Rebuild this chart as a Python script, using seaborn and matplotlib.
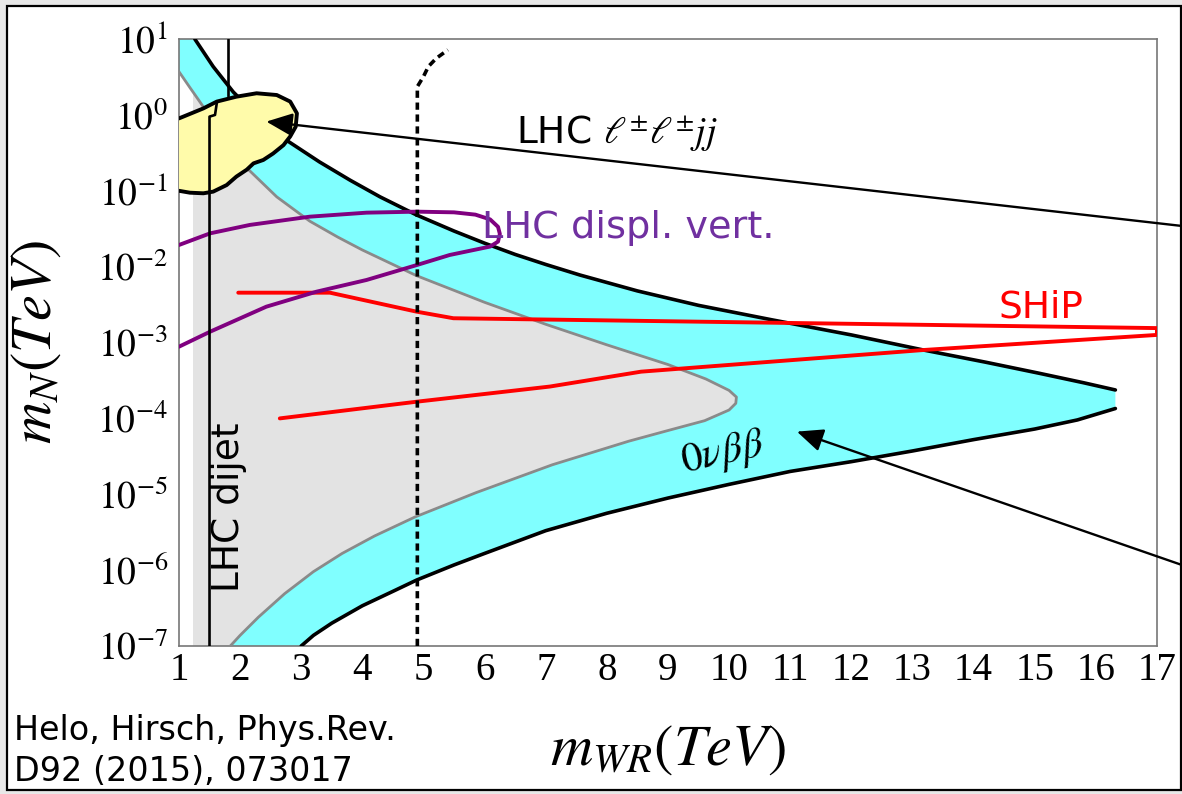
import matplotlib
matplotlib.use("Agg")
import matplotlib.pyplot as plt
from matplotlib.patches import Polygon, Rectangle
from matplotlib.ticker import NullLocator
import seaborn as sns

sns.set_theme(style="white")
plt.rcParams["font.family"] = ["DejaVu Sans"]
plt.rcParams["mathtext.fontset"] = "stix"
plt.rcParams["text.color"] = "black"
plt.rcParams["axes.labelcolor"] = "black"

# ---------------- data: m_WR [TeV] on x, m_N [TeV] on y ----------------
# 0vbb future sensitivity band (cyan), upper edge
band_hi_mwr = [1.26, 1.56, 1.89, 2.34, 2.79, 3.30, 3.80, 4.29, 4.89, 5.50, 6.00, 6.50, 7.00, 7.56,
               8.50, 9.50, 10.69, 12.00, 13.19, 14.20, 15.07, 15.80, 16.32]
band_hi_mn = [10.0, 4.34, 2.0, 0.87, 0.447, 0.240, 0.138, 0.0832, 0.0479, 0.0295, 0.0204, 0.0145,
              0.0107, 7.76e-3, 4.79e-3, 3.09e-3, 2.0e-3, 1.26e-3, 7.94e-4, 5.5e-4, 3.94e-4, 2.95e-4, 2.37e-4]
# lower edge
band_lo_mwr = [3.00, 3.20, 3.50, 4.00, 4.50, 4.89, 5.50, 6.00, 7.00, 8.00, 9.00, 10.00, 11.00,
               12.00, 13.00, 14.00, 15.00, 15.70, 16.32]
band_lo_mn = [1e-7, 1.38e-7, 2.0e-7, 3.39e-7, 5.25e-7, 7.41e-7, 1.17e-6, 1.66e-6, 3.31e-6, 5.62e-6,
              8.91e-6, 1.35e-5, 2.0e-5, 2.69e-5, 3.72e-5, 5.25e-5, 7.24e-5, 9.55e-5, 1.35e-4]

# current 0vbb exclusion (grey), boundary traced from the top left round the nose
excl_mwr = [1.00, 1.18, 1.32, 1.60, 1.90, 2.11, 2.60, 3.14, 3.60, 4.00, 4.89, 6.00, 7.00, 8.00, 9.00,
            9.62, 10.00, 10.12, 10.11, 10.00, 9.60, 9.00, 8.36, 7.11, 5.86, 4.86, 4.20, 3.67, 3.20,
            2.73, 2.30, 2.00, 1.84]
excl_mn = [3.72, 2.29, 1.58, 0.741, 0.347, 0.20, 0.0832, 0.0398, 0.0245, 0.0166, 7.59e-3, 3.39e-3,
           1.74e-3, 9.33e-4, 5.13e-4, 3.31e-4, 2.34e-4, 1.91e-4, 1.58e-4, 1.29e-4, 9.33e-5, 6.92e-5,
           5.01e-5, 2.45e-5, 1.05e-5, 5.01e-6, 2.82e-6, 1.66e-6, 9.55e-7, 4.9e-7, 2.4e-7, 1.38e-7, 1e-7]
excl_left_edge = 1.23

# LHC l+-l+-jj excluded region
lljj_mwr = [1.00, 1.40, 1.62, 1.94, 2.27, 2.60, 2.82, 2.93, 2.91, 2.82, 2.71, 2.54, 2.38, 2.22, 2.11,
            1.94, 1.78, 1.56, 1.40, 1.18, 1.00]
lljj_mn = [0.90, 1.22, 1.50, 1.74, 1.93, 1.83, 1.50, 1.05, 0.70, 0.52, 0.40, 0.31, 0.255, 0.23, 0.19,
           0.154, 0.119, 0.0975, 0.0927, 0.0944, 0.100]

# LHC displaced vertex reach
dv_mwr = [1.00, 1.51, 2.16, 3.14, 4.07, 4.89, 5.50, 5.85, 6.09, 6.22, 6.25, 6.22, 6.09, 5.43, 4.89,
          4.07, 3.25, 2.43, 1.51, 1.00]
dv_mn = [0.0193, 0.0275, 0.0355, 0.0456, 0.0515, 0.0531, 0.0520, 0.0485, 0.0420, 0.0335, 0.0270,
         0.0214, 0.0184, 0.01426, 0.0105, 6.68e-3, 4.68e-3, 2.97e-3, 1.39e-3, 8.81e-4]

# SHiP reach
ship_mwr = [1.97, 3.47, 4.89, 5.49, 17.0, 17.0, 13.19, 8.56, 7.07, 4.89, 2.65]
ship_mn = [4.54e-3, 4.54e-3, 2.55e-3, 2.09e-3, 1.55e-3, 1.26e-3, 7.98e-4, 4.13e-4, 2.63e-4, 1.66e-4, 1.0e-4]

# LHC dijet limit
dijet_lo_mwr = [1.50, 1.50, 1.59, 1.62]
dijet_lo_mn = [1e-7, 0.95, 1.0, 1.45]
dijet_hi_mwr = [1.81, 1.81]
dijet_hi_mn = [1.75, 10.0]

# dotted LHC projection
proj_mwr = [4.90, 4.90, 5.00, 5.08, 5.21, 5.40]
proj_mn = [1e-7, 2.36, 3.2, 4.34, 5.58, 7.2]

x_ticks = list(range(1, 18))
y_exponents = list(range(-7, 2))

CYAN = "#80ffff"
GREY_FILL = "#e3e3e3"
GREY_LINE = "#8a8a8a"
YELLOW = "#fffbaa"
PURPLE = "#800080"
PURPLE_TXT = "#7030a0"
RED = "#ff0000"
AXIS_GREY = "#777777"

fig = plt.figure(figsize=(11.82, 7.94), dpi=100)
fig.patch.set_facecolor("#e8e8e8")
fig.add_artist(Rectangle((7 / 1182, 4 / 794), 1174 / 1182, 784 / 794, transform=fig.transFigure,
                         facecolor="white", edgecolor="black", lw=1.6, zorder=-5))

ax = fig.add_axes([0.1514, 0.1864, 0.8274, 0.7644])
ax.set_facecolor("white")
ax.set_yscale("log")
ax.set_xlim(1, 17)
ax.set_ylim(1e-7, 10)

# cyan band: upper edge, vertical cut at the tip, lower edge, then the bottom-left corner
band_x = [1.0] + band_hi_mwr + band_lo_mwr[::-1] + [1.0]
band_y = [10.0] + band_hi_mn + band_lo_mn[::-1] + [1e-7]
ax.add_patch(Polygon(list(zip(band_x, band_y)), closed=True, facecolor=CYAN, edgecolor="none", zorder=1))

# grey exclusion region, left strip kept white
excl_patch = Polygon(list(zip(excl_mwr + [1.0], excl_mn + [1e-7])), closed=True,
                     facecolor=GREY_FILL, edgecolor="none", zorder=2)
ax.add_patch(excl_patch)
strip = ax.axvspan(1.0, excl_left_edge, color="white", lw=0, zorder=2.1)
strip.set_clip_path(excl_patch)
sns.lineplot(x=excl_mwr, y=excl_mn, sort=False, estimator=None, ax=ax, color=GREY_LINE, lw=2.0, zorder=3)

# black band edges
sns.lineplot(x=band_hi_mwr, y=band_hi_mn, sort=False, estimator=None, ax=ax, color="black", lw=2.6, zorder=3.2)
sns.lineplot(x=band_lo_mwr, y=band_lo_mn, sort=False, estimator=None, ax=ax, color="black", lw=2.6, zorder=3.2)

# SHiP and displaced vertices
sns.lineplot(x=ship_mwr, y=ship_mn, sort=False, estimator=None, ax=ax, color=RED, lw=2.8, zorder=3.5)
sns.lineplot(x=dv_mwr, y=dv_mn, sort=False, estimator=None, ax=ax, color=PURPLE, lw=2.8, zorder=3.6)

# dotted projection
sns.lineplot(x=proj_mwr, y=proj_mn, sort=False, estimator=None, ax=ax, color="black", lw=2.6,
             linestyle=(0, (2.0, 1.3)), zorder=3.7)

# l+-l+-jj blob
ax.add_patch(Polygon(list(zip(lljj_mwr, lljj_mn)), closed=True, facecolor=YELLOW, edgecolor="none", zorder=4))
sns.lineplot(x=lljj_mwr, y=lljj_mn, sort=False, estimator=None, ax=ax, color="black", lw=2.8, zorder=4.1)

# dijet limit
sns.lineplot(x=dijet_lo_mwr, y=dijet_lo_mn, sort=False, estimator=None, ax=ax, color="black", lw=1.9, zorder=4.5)
sns.lineplot(x=dijet_hi_mwr, y=dijet_hi_mn, sort=False, estimator=None, ax=ax, color="black", lw=1.9, zorder=4.5)

# labels on the plot
ax.text(6.52, 0.427, r"LHC $\ell^{\pm}\ell^{\pm}jj$", fontsize=27, ha="left", va="baseline", zorder=5)
ax.text(5.96, 0.024, "LHC displ. vert.", fontsize=27.5, color=PURPLE_TXT, ha="left", va="baseline", zorder=5)
ax.text(15.11, 2.11e-3, "SHiP", fontsize=27, color=RED, ha="center", va="baseline", zorder=5)
ax.text(9.9, 3.39e-5, r"$0\nu\beta\beta$", fontsize=30, rotation=12, rotation_mode="anchor",
        ha="center", va="center", zorder=5)
ax.text(1.82, 6.7e-6, "LHC dijet", fontsize=27, rotation=90, ha="center", va="center", zorder=5)

# pointers from the right edge
arrow_style = dict(arrowstyle="-|>,head_length=0.8,head_width=0.35", color="black", lw=1.7,
                   mutation_scale=20, shrinkA=0, shrinkB=0)
ax.annotate("", xy=(2.43, 0.817), xycoords="data", xytext=(1.0, 0.7154), textcoords="figure fraction",
            arrowprops=arrow_style, annotation_clip=False, zorder=6)
ax.annotate("", xy=(11.11, 6.7e-5), xycoords="data", xytext=(1.0, 0.2884), textcoords="figure fraction",
            arrowprops=arrow_style, annotation_clip=False, zorder=6)

# axes styling
for s in ax.spines.values():
    s.set_color(AXIS_GREY)
    s.set_linewidth(1.2)
ax.set_xticks(x_ticks)
ax.set_xticklabels([str(t) for t in x_ticks], fontfamily="Liberation Serif", fontsize=28)
ax.set_yticks([10.0 ** k for k in y_exponents])
ax.set_yticklabels([rf"$10^{{{k}}}$" for k in y_exponents], fontsize=27)
ax.yaxis.set_minor_locator(NullLocator())
ax.tick_params(axis="both", which="major", direction="in", color=AXIS_GREY, width=1.2, length=9,
               labelcolor="black")
ax.tick_params(axis="x", pad=4)
ax.tick_params(axis="y", pad=8)

ax.set_xlabel(r"$m_{WR}(TeV)$", fontsize=42, color="black")
ax.xaxis.set_label_coords(0.5, -0.122)
ax.set_ylabel(r"$m_N(TeV)$", fontsize=42, color="black")
ax.yaxis.set_label_coords(-0.1186, 0.501)

fig.text(14 / 1182, 1 - 714 / 794, "Helo, Hirsch, Phys.Rev.\nD92 (2015), 073017",
         fontsize=24, ha="left", va="top", color="black", linespacing=1.3)

fig.savefig("out.png", dpi=100, facecolor=fig.get_facecolor())
